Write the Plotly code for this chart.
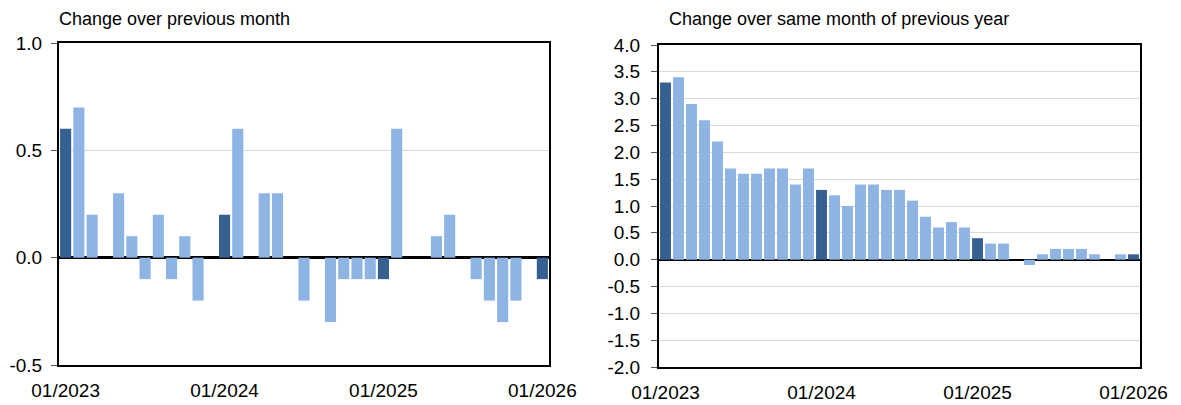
import plotly.graph_objects as go

# ---- data ----
months = [f"{m:02d}/{y}" for y in (2023, 2024, 2025) for m in range(1, 13)] + ["01/2026"]
mom_change = [0.6, 0.7, 0.2, 0.0, 0.3, 0.1, -0.1, 0.2, -0.1, 0.1, -0.2, 0.0,
              0.2, 0.6, 0.0, 0.3, 0.3, 0.0, -0.2, 0.0, -0.3, -0.1, -0.1, -0.1,
              -0.1, 0.6, 0.0, 0.0, 0.1, 0.2, 0.0, -0.1, -0.2, -0.3, -0.2, 0.0,
              -0.1]
yoy_change = [3.3, 3.4, 2.9, 2.6, 2.2, 1.7, 1.6, 1.6, 1.7, 1.7, 1.4, 1.7,
              1.3, 1.2, 1.0, 1.4, 1.4, 1.3, 1.3, 1.1, 0.8, 0.6, 0.7, 0.6,
              0.4, 0.3, 0.3, 0.0, -0.1, 0.1, 0.2, 0.2, 0.2, 0.1, 0.0, 0.1,
              0.1]
x_tick_labels = ["01/2023", "01/2024", "01/2025", "01/2026"]
left_y_ticks = [-0.5, 0.0, 0.5, 1.0]
right_y_ticks = [-2.0, -1.5, -1.0, -0.5, 0.0, 0.5, 1.0, 1.5, 2.0, 2.5, 3.0, 3.5, 4.0]
left_title = "Change over previous month"
right_title = "Change over same month of previous year"

DARK = "#376092"
LIGHT = "#8EB4E3"
colors = [DARK if m.startswith("01/") else LIGHT for m in months]

W, H = 1181, 405
FONT = "Liberation Sans, Arial, sans-serif"

def px_x(p):
    return p / W

def px_y(p):
    return 1 - p / H

def fmt(v):
    return f"{v:.1f}"

fig = go.Figure()
fig.add_trace(go.Bar(x=months, y=mom_change, marker=dict(color=colors, line=dict(width=0)),
                     xaxis="x", yaxis="y", showlegend=False))
fig.add_trace(go.Bar(x=months, y=yoy_change, marker=dict(color=colors, line=dict(width=0)),
                     xaxis="x2", yaxis="y2", showlegend=False))

common_x = dict(type="category", tickmode="array", tickvals=x_tick_labels, ticktext=x_tick_labels,
                showgrid=False, ticks="", showline=True, linecolor="black", linewidth=2,
                mirror=True, tickfont=dict(family=FONT, size=19, color="black"),
                ticklabelstandoff=7, tickangle=0, automargin=False)
common_y = dict(showgrid=True, gridcolor="#D9D9D9", gridwidth=1, zeroline=True,
                zerolinecolor="black", showline=True, linecolor="black",
                linewidth=2, mirror=True, ticks="outside", ticklen=6, tickcolor="#595959",
                tickwidth=1, tickmode="array", automargin=False,
                tickfont=dict(family=FONT, size=19, color="black"))

fig.update_layout(
    width=W, height=H,
    margin=dict(l=0, r=0, t=0, b=0),
    paper_bgcolor="white", plot_bgcolor="white",
    bargap=0.16,
    xaxis=dict(domain=[px_x(59), px_x(549)], anchor="y", **common_x),
    yaxis=dict(domain=[px_y(365), px_y(43)], anchor="x", range=[-0.5, 1.0],
               tickvals=left_y_ticks, ticktext=[fmt(v) for v in left_y_ticks],
               ticklabelstandoff=5, zerolinewidth=2.5, **common_y),
    xaxis2=dict(domain=[px_x(659), px_x(1140)], anchor="y2", **common_x),
    yaxis2=dict(domain=[px_y(367), px_y(45)], anchor="x2", range=[-2.0, 4.0],
                tickvals=right_y_ticks, ticktext=[fmt(v) for v in right_y_ticks],
                ticklabelstandoff=7, zerolinewidth=1.5, **common_y),
    annotations=[
        dict(text=left_title, x=px_x(57), y=px_y(19), xref="paper", yref="paper",
             xanchor="left", yanchor="middle", showarrow=False,
             font=dict(family=FONT, size=18, color="black")),
        dict(text=right_title, x=px_x(667), y=px_y(19), xref="paper", yref="paper",
             xanchor="left", yanchor="middle", showarrow=False,
             font=dict(family=FONT, size=18, color="black")),
    ],
)

fig.write_html("out.html",
               config={"displayModeBar": False},
               post_script="document.body.style.margin='0';document.body.style.overflow='hidden';")
